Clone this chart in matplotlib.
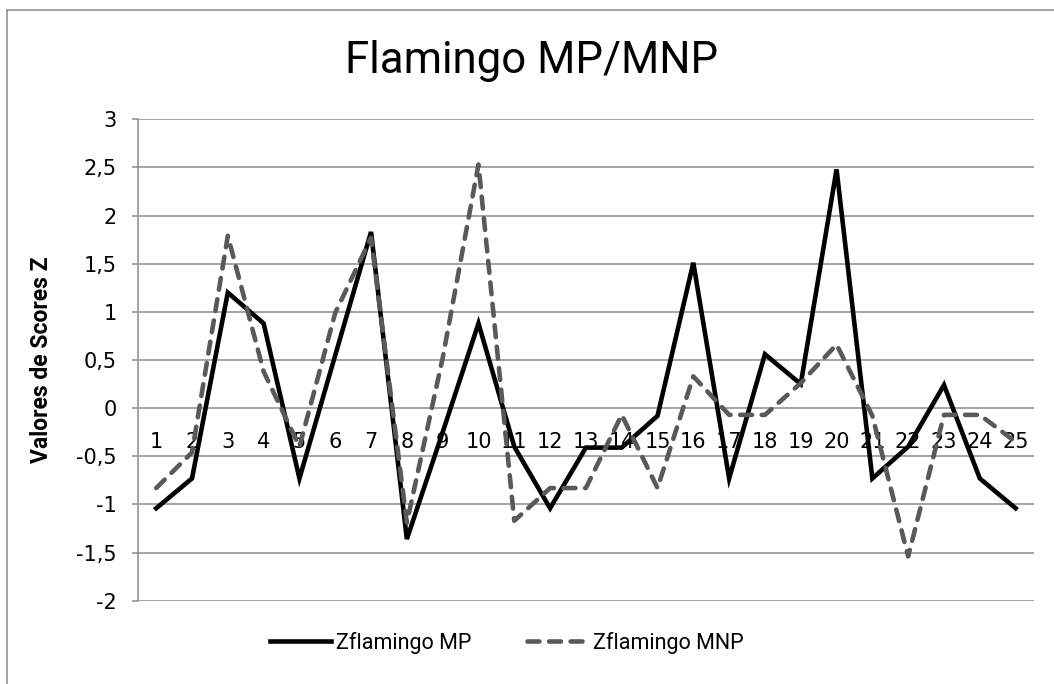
import matplotlib.pyplot as plt
from matplotlib.lines import Line2D

# Data
categories = list(range(1, 26))
z_mp = [-1.04, -0.73, 1.20, 0.88, -0.73, 0.55, 1.83, -1.36, -0.25, 0.88,
        -0.40, -1.04, -0.41, -0.41, -0.08, 1.51, -0.73, 0.56, 0.25, 2.48,
        -0.73, -0.40, 0.24, -0.73, -1.04]
z_mnp = [-0.83, -0.46, 1.79, 0.38, -0.40, 0.99, 1.77, -1.19, 0.52, 2.53,
         -1.17, -0.83, -0.83, -0.07, -0.83, 0.33, -0.07, -0.07, 0.26, 0.66,
         -0.08, -1.54, -0.07, -0.07, -0.35]
y_ticks = [-2, -1.5, -1, -0.5, 0, 0.5, 1, 1.5, 2, 2.5, 3]
y_labels = [str(v).replace('.', ',') if v != int(v) else str(int(v)) for v in y_ticks]

W, H = 1054, 684
fig = plt.figure(figsize=(W / 100, H / 100), dpi=100)
ax = fig.add_axes([138.3 / W, 1 - 600.7 / H, (1033.5 - 138.3) / W, (600.7 - 119.3) / H])

grid_col = '#8c8c8c'

# Chart lines
ax.plot(categories, z_mp, color='black', lw=3.3, zorder=3,
        solid_joinstyle='miter', label='Zflamingo MP')
ax.plot(categories, z_mnp, color='#595959', lw=3.3, zorder=4,
        linestyle=(0, (2.6, 2.1)), dash_capstyle='round', label='Zflamingo MNP')

ax.set_xlim(0.5, 25.5)
ax.set_ylim(-2, 3)
ax.set_yticks(y_ticks)
ax.set_yticklabels(y_labels)
ax.yaxis.grid(True, color=grid_col, lw=1.1)
ax.set_axisbelow(True)

# category axis crosses at zero
ax.spines['bottom'].set_position(('data', 0))
ax.spines['bottom'].set_visible(False)
ax.spines['top'].set_visible(False)
ax.spines['right'].set_visible(False)
ax.spines['left'].set_color(grid_col)
ax.spines['left'].set_linewidth(1.1)
ax.set_xticks(categories)
ax.set_xticklabels([str(c) for c in categories])
ax.tick_params(axis='x', length=0, pad=17, labelsize=15)
ax.tick_params(axis='y', length=4.5, width=1.1, color=grid_col, pad=11, labelsize=15)

fig.text(532 / W, 1 - 73 / H, 'Flamingo MP/MNP', ha='center', va='baseline',
         fontsize=31.5, family='Roboto')
fig.text(42 / W, 1 - 360 / H, 'Valores de Scores Z', rotation=90, ha='center',
         va='center', fontsize=16.5, family='Roboto', fontweight='bold')

fig.legend(loc='center', bbox_to_anchor=(507 / W, 1 - 643 / H), ncol=2,
           frameon=False, prop={'family': 'Roboto', 'size': 15.5},
           handlelength=2.8, handletextpad=0.25, columnspacing=2.6)

# outer chart border (left and top visible)
fig.add_artist(Line2D([7 / W, 7 / W], [0, 1 - 10 / H], color=grid_col, lw=1.1))
fig.add_artist(Line2D([7 / W, 1], [1 - 10 / H, 1 - 10 / H], color=grid_col, lw=1.1))

fig.savefig('out.png', dpi=100)
